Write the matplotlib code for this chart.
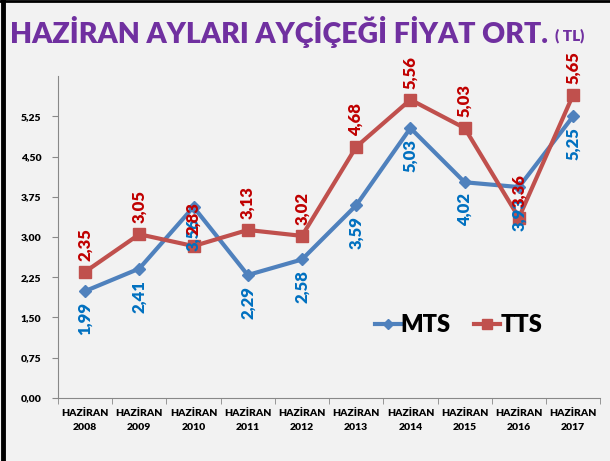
import numpy as np
import matplotlib.pyplot as plt

years = ['2008', '2009', '2010', '2011', '2012', '2013', '2014', '2015', '2016', '2017']
mts = [1.99, 2.41, 3.56, 2.29, 2.58, 3.59, 5.03, 4.02, 3.93, 5.25]
tts = [2.35, 3.05, 2.83, 3.13, 3.02, 4.68, 5.56, 5.03, 3.36, 5.65]
yticks = [0, 0.75, 1.5, 2.25, 3.0, 3.75, 4.5, 5.25]

plt.rcParams['font.family'] = ['Lato', 'DejaVu Sans']

def fmt(v):
    return ('%.2f' % v).replace('.', ',')

fig = plt.figure(figsize=(6.1, 4.61), dpi=100)
fig.patch.set_facecolor('#f2f2f2')
# frame lines on left and top like the slide border
fig.add_artist(plt.Line2D([0.005, 0.005], [0, 1], transform=fig.transFigure, color='black', lw=3.5))
fig.add_artist(plt.Line2D([0, 1], [0.997, 0.997], transform=fig.transFigure, color='black', lw=2))

ax = fig.add_axes([0.095, 0.137, 0.889, 0.698])
ax.set_facecolor('none')
x = np.arange(len(years))

ax.plot(x, mts, color='#4F81BD', lw=3, marker='D', ms=6, label='MTS', zorder=3)
ax.plot(x, tts, color='#C0504D', lw=3, marker='s', ms=8, label='TTS', zorder=3)

for i, v in enumerate(mts):
    ax.annotate(fmt(v), (i, v), xytext=(0, -8), textcoords='offset points',
                rotation=90, ha='center', va='top', color='#0070C0',
                fontsize=12, fontweight='heavy', zorder=4)
for i, v in enumerate(tts):
    ax.annotate(fmt(v), (i, v), xytext=(0, 8), textcoords='offset points',
                rotation=90, ha='center', va='bottom', color='#C00000',
                fontsize=12, fontweight='heavy', zorder=4)

ax.set_xlim(-0.5, len(years) - 0.5)
ax.set_ylim(0, 6.0)
ax.set_yticks(yticks)
ax.set_yticklabels([fmt(v) for v in yticks], fontsize=7.5, fontweight='heavy')
ax.set_xticks(x)
ax.set_xticklabels(['HAZİRAN\n' + y for y in years], fontsize=7.5, fontweight='heavy', linespacing=1.7)
ax.set_xticks(np.arange(-0.5, len(years)), minor=True)
ax.tick_params(axis='x', which='major', length=0, pad=8)
ax.tick_params(axis='x', which='minor', length=4, color='#888888')
ax.tick_params(axis='y', length=4, color='#888888', pad=8)
for s in ['top', 'right']:
    ax.spines[s].set_visible(False)
for s in ['left', 'bottom']:
    ax.spines[s].set_color('#888888')

ax.legend(loc='center left', bbox_to_anchor=(0.545, 0.226), ncol=2, frameon=False,
          prop={'size': 17, 'weight': 'heavy'}, handlelength=1.1,
          handletextpad=0.0, columnspacing=1.0, markerscale=0.9)

fig.text(0.016, 0.93, 'HAZİRAN AYLARI AYÇİÇEĞİ FİYAT ORT.', color='#7030A0',
         fontsize=20.5, fontweight='heavy', va='center')
fig.text(0.91, 0.922, '( TL)', color='#7030A0', fontsize=11, fontweight='heavy', va='center')

fig.savefig('out.png', dpi=100, facecolor=fig.get_facecolor())
